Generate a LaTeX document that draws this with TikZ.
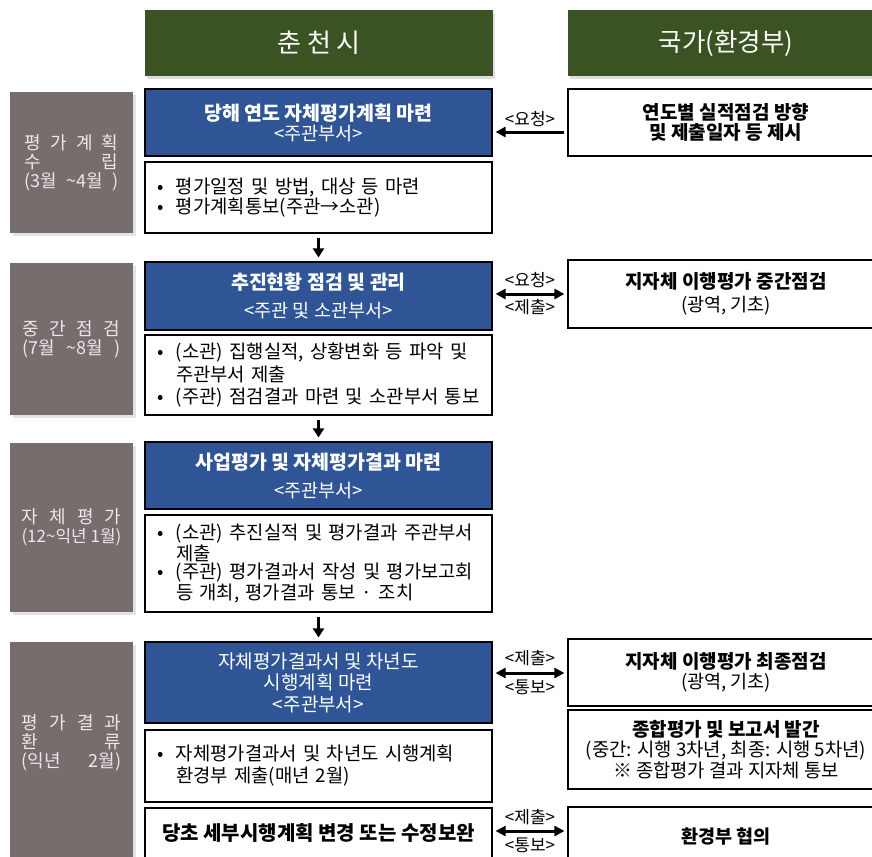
\documentclass[tikz,border=0pt]{standalone}
\usepackage{fontspec}
\setmainfont{Noto Sans CJK KR}
\usepackage{xcolor}
\usetikzlibrary{arrows.meta,shadows}

\definecolor{hdgreen}{HTML}{3B5323}
\definecolor{taskblue}{HTML}{2F5597}
\definecolor{stagegray}{HTML}{766D6D}
\definecolor{stagetext}{HTML}{ECE8E8}

\newcommand{\bul}[1]{\mbox{\makebox[19pt][l]{•}#1}}
\newcommand{\cont}[1]{\mbox{\hspace*{19pt}#1}}
\newcommand{\spread}[2][94pt]{\makebox[#1][s]{#2}}

\begin{document}
\begin{tikzpicture}[
    x=1pt, y=-1pt,
    head/.style={rectangle, fill=hdgreen, text=white, minimum width=348pt, minimum height=66pt,
        font=\fontsize{26}{30}\selectfont, drop shadow={shadow xshift=2pt, shadow yshift=-3pt, fill=black!25}},
    stage/.style={rectangle, fill=stagegray, text=stagetext, minimum width=123pt, align=center,
        font=\fontsize{18}{19}\selectfont, drop shadow={shadow xshift=3pt, shadow yshift=-3pt, fill=black!22}},
    stagetxt/.style={text=stagetext, align=center, font=\fontsize{18}{19}\selectfont},
    task/.style={rectangle, draw=black, line width=1.2pt, fill=taskblue, text=white, minimum width=347pt,
        align=center, font=\fontsize{19}{20}\selectfont},
    note/.style={rectangle, draw=black, line width=1.2pt, fill=white, text width=323pt, inner xsep=12pt,
        align=left, font=\fontsize{18.8}{20}\selectfont},
    side/.style={rectangle, draw=black, line width=1.2pt, fill=white, minimum width=316pt,
        align=center, font=\fontsize{18.5}{20}\selectfont},
    flow/.style={-{Triangle[length=9pt,width=11pt]}, line width=3pt, shorten <=4pt, shorten >=4pt},
    push/.style={-{Triangle[length=10pt,width=10pt]}, line width=3pt, shorten <=3pt, shorten >=3pt},
    link/.style={{Triangle[length=10pt,width=10pt]}-{Triangle[length=10pt,width=10pt]}, line width=3pt,
        shorten <=3pt, shorten >=3pt},
    tag/.style={font=\fontsize{17}{18}\selectfont, inner sep=1pt},
]
    \useasboundingbox (0,0) rectangle (872,856);

    % column heads
    \node[head] (hdcity) at (319,43) {춘 천 시};
    \node[head, minimum width=316pt, font=\fontsize{25.5}{30}\selectfont] (hdgov) at (726,43) {국가(환경부)};

    % stages
    \node[stage, minimum height=141pt] (stage1) at (71.5,162.5)
        {\spread{평 가 계 획}\\\spread{수 립}\\\spread{(3월 \textasciitilde{}4월 )}};
    \node[stage, minimum height=152pt] (stage2) at (71.5,339)
        {\spread[98pt]{중 간 점 검}\\\spread[98pt]{(7월 \textasciitilde{}8월 )}};
    \node[stage, minimum height=169pt] (stage3) at (71.5,527.5)
        {\spread[100pt]{자 체 평 가}\\\spread[100pt]{\fontsize{17}{19}\selectfont(12\textasciitilde{}익년 1월)}};
    \node[stage, minimum height=230pt, anchor=north] (stage4) at (71.5,642) {};
    \node[stagetxt] (stage4txt) at (71.5,743)
        {\spread[100pt]{평 가 결 과}\\\spread[100pt]{환 류}\\\spread[100pt]{(익년 2월)}};

    % city side
    \node[task, minimum height=67pt, font=\fontsize{19.5}{20}\selectfont] (task1) at (318.5,122.5)
        {\bfseries 당해 연도 자체평가계획 마련\\\fontsize{18.5}{20}\selectfont<주관부서>};
    \node[note, minimum height=71pt, font=\fontsize{18.8}{19}\selectfont] (note1) at (318.5,197.5)
        {\bul{평가일정 및 방법, 대상 등 마련}\\\bul{평가계획통보(주관→소관)}};
    \node[task, minimum height=68pt, font=\fontsize{19.5}{20}\selectfont] (task2) at (318.5,296)
        {\bfseries 추진현황 점검 및 관리\\[8pt]\fontsize{18.5}{20}\selectfont<주관 및 소관부서>};
    \node[note, minimum height=80pt, font=\fontsize{18.8}{22.5}\selectfont] (note2) at (318.5,375)
        {\bul{(소관) 집행실적, 상황변화 등 파악 및}\\\cont{주관부서 제출}\\\bul{(주관) 점검결과 마련 및 소관부서 통보}};
    \node[task, minimum height=67pt, font=\fontsize{19.5}{20}\selectfont] (task3) at (318.5,475.5)
        {\bfseries 사업평가 및 자체평가결과 마련\\[8pt]\fontsize{18.5}{20}\selectfont<주관부서>};
    \node[note, minimum height=97pt, font=\fontsize{18.8}{18.7}\selectfont] (note3) at (318.5,563.5)
        {\bul{(소관) 추진실적 및 평가결과 주관부서}\\\cont{제출}\\\bul{(주관) 평가결과서 작성 및 평가보고회}\\\cont{등 개최, 평가결과 통보 · 조치}};
    \node[task, minimum height=81pt, font=\fontsize{19}{21.5}\selectfont] (task4) at (318.5,682.5)
        {자체평가결과서 및 차년도\\시행계획 마련\\<주관부서>};
    \node[note, minimum height=72pt, font=\fontsize{18.8}{22}\selectfont] (note4) at (318.5,766)
        {\bul{자체평가결과서 및 차년도 시행계획}\\\cont{환경부 제출(매년 2월)}};
    \node[side, minimum width=347pt, minimum height=50pt, font=\fontsize{20}{22}\selectfont] (task5) at (318.5,833)
        {\bfseries 당초 세부시행계획 변경 또는 수정보완};

    % ministry side
    \node[side, minimum height=67pt, font=\fontsize{19}{20}\selectfont] (gov1) at (726,122.5)
        {\bfseries 연도별 실적점검 방향\\\bfseries 및 제출일자 등 제시};
    \node[side, minimum height=68pt] (gov2) at (726,294)
        {\fontsize{19}{20}\selectfont\bfseries 지자체 이행평가 중간점검\\[3pt](광역, 기초)};
    \node[side, minimum height=67pt] (gov3) at (726,672.5)
        {\fontsize{19}{20}\selectfont\bfseries 지자체 이행평가 최종점검\\(광역, 기초)};
    \node[side, minimum height=79pt, font=\fontsize{18.8}{20.5}\selectfont] (gov4) at (726,749.5)
        {\fontsize{19}{20.5}\selectfont\bfseries 종합평가 및 보고서 발간\\(중간: 시행 3차년, 최종: 시행 5차년)\\※ 종합평가 결과 지자체 통보};
    \node[side, minimum height=60pt, font=\fontsize{18.5}{20}\selectfont] (gov5) at (726,837) {\bfseries 환경부 협의};

    % flow down
    \draw[flow] (note1) -- (task2);
    \draw[flow] (note2) -- (task3);
    \draw[flow] (note3) -- (task4);

    % exchanges
    \draw[push] (gov1.west |- 0,132) -- node[tag, above=3pt] {<요청>} (task1.east |- 0,132);
    \draw[link] (task2.east |- 0,294) -- node[tag, above=4pt] {<요청>} node[tag, below=3pt] {<제출>} (gov2.west |- 0,294);
    \draw[link] (task4.east |- 0,673) -- node[tag, above=5pt] {<제출>} node[tag, below=4pt] {<통보>} (gov3.west |- 0,673);
    \draw[link] (task5.east |- 0,831) -- node[tag, above=4pt] {<제출>} node[tag, below=4pt] {<통보>} (gov5.west |- 0,831);
\end{tikzpicture}
\end{document}
